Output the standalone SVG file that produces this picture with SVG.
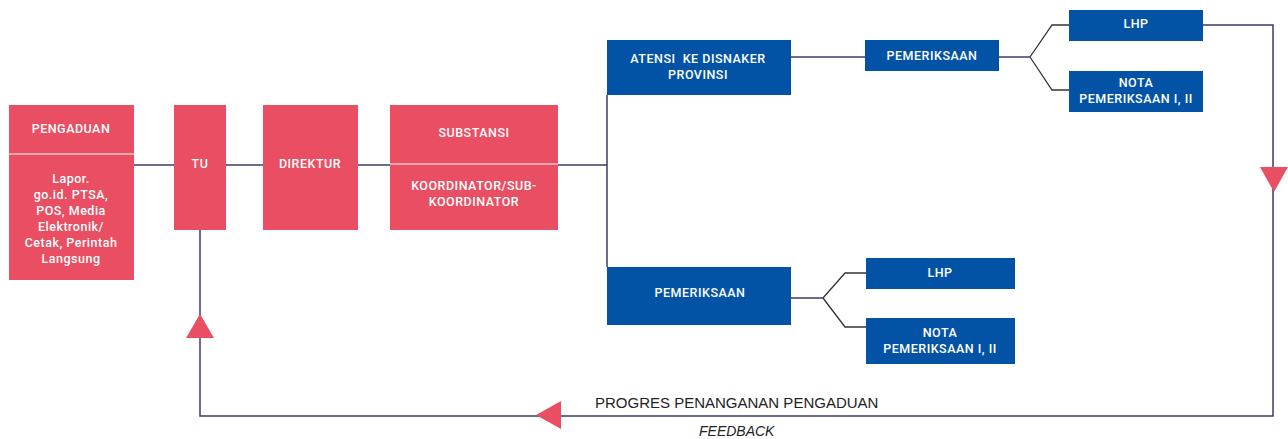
<svg xmlns="http://www.w3.org/2000/svg" width="1288" height="439" viewBox="0 0 1288 439">
<style>
.red{fill:#E94E62}
.blue{fill:#0253A5}
.t{font-family:Roboto,"Liberation Sans",Arial,sans-serif;font-weight:500;font-size:12.5px;letter-spacing:0.5px;fill:#fff;text-anchor:middle}
.ln{fill:none;stroke:#3D3A6B;stroke-width:1.5}
.fk{fill:none;stroke:#333;stroke-width:1.3}
.tri{fill:#E94E62}
.lbl{font-family:"Liberation Sans",Arial,sans-serif;fill:#222}
</style>
<rect width="1288" height="439" fill="#fff"/>
<g id="connectors">
<path class="ln" d="M134,165 H607"/>
<path class="ln" d="M607,95 V267"/>
<path class="ln" d="M791,57 H865"/>
<path class="ln" d="M999,57 H1030"/>
<path class="fk" d="M1030,57 L1052,25 H1069 M1030,57 L1052,90 H1069"/>
<path class="ln" d="M791,298 H823"/>
<path class="fk" d="M823,298 L845,273 H866 M823,298 L845,327 H866"/>
<path class="ln" d="M1203,25 H1273 V416 H200 V230"/>
<polygon class="tri" points="1260,167 1288,167 1274,192"/>
<polygon class="tri" points="186,338 214,338 200,314"/>
<polygon class="tri" points="561,401 561,429 536,415"/>
</g>
<g id="pengaduan">
<rect class="red" x="9" y="105" width="125" height="175"/>
<line x1="9" y1="154" x2="134" y2="154" stroke="#fff" stroke-width="1"/>
<text class="t" x="71" y="133">PENGADUAN</text>
<text class="t" x="71" y="183">Lapor.</text>
<text class="t" x="71" y="199">go.id. PTSA,</text>
<text class="t" x="71" y="215">POS, Media</text>
<text class="t" x="71" y="231">Elektronik/</text>
<text class="t" x="71" y="247">Cetak, Perintah</text>
<text class="t" x="71" y="263">Langsung</text>
</g>
<g id="tu">
<rect class="red" x="174" y="105" width="52" height="125"/>
<text class="t" x="200" y="168">TU</text>
</g>
<g id="direktur">
<rect class="red" x="263" y="105" width="95" height="125"/>
<text class="t" x="310" y="168">DIREKTUR</text>
</g>
<g id="substansi">
<rect class="red" x="390" y="105" width="168" height="125"/>
<line x1="390" y1="164" x2="558" y2="164" stroke="#fff" stroke-width="1"/>
<text class="t" x="474" y="137">SUBSTANSI</text>
<text class="t" x="474" y="190">KOORDINATOR/SUB-</text>
<text class="t" x="474" y="206">KOORDINATOR</text>
</g>
<g id="atensi">
<rect class="blue" x="607" y="40" width="184" height="55"/>
<text class="t" x="698" y="63" xml:space="preserve">ATENSI  KE DISNAKER</text>
<text class="t" x="698" y="79">PROVINSI</text>
</g>
<g id="pemeriksaan-top">
<rect class="blue" x="865" y="40" width="134" height="31"/>
<text class="t" x="932" y="60">PEMERIKSAAN</text>
</g>
<g id="lhp-top">
<rect class="blue" x="1069" y="10" width="134" height="31"/>
<text class="t" x="1136" y="28">LHP</text>
</g>
<g id="nota-top">
<rect class="blue" x="1069" y="71" width="134" height="41"/>
<text class="t" x="1136" y="87">NOTA</text>
<text class="t" x="1136" y="103">PEMERIKSAAN I, II</text>
</g>
<g id="pemeriksaan-bottom">
<rect class="blue" x="607" y="267" width="184" height="58"/>
<text class="t" x="700" y="297">PEMERIKSAAN</text>
</g>
<g id="lhp-bottom">
<rect class="blue" x="866" y="258" width="149" height="31"/>
<text class="t" x="940" y="277">LHP</text>
</g>
<g id="nota-bottom">
<rect class="blue" x="866" y="318" width="149" height="46"/>
<text class="t" x="940" y="337">NOTA</text>
<text class="t" x="940" y="353">PEMERIKSAAN I, II</text>
</g>
<g id="labels">
<text class="lbl" x="595" y="408" font-size="15">PROGRES PENANGANAN PENGADUAN</text>
<text class="lbl" x="699" y="436" font-size="14" font-style="italic">FEEDBACK</text>
</g>
</svg>
